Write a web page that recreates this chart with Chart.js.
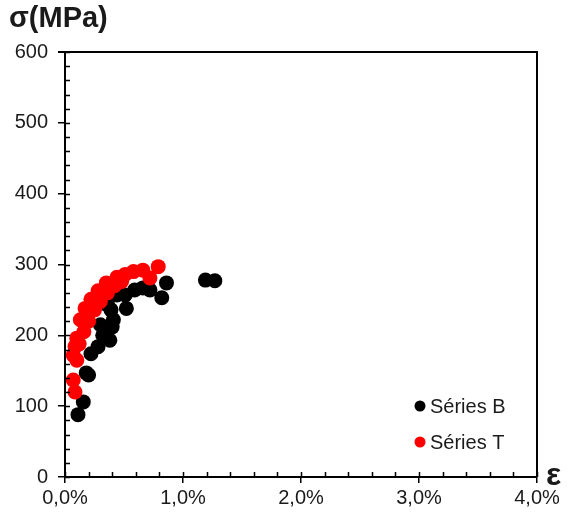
<!DOCTYPE html>
<html>
<head>
<meta charset="utf-8">
<script src="https://cdn.jsdelivr.net/npm/chart.js@4"></script>
<style>
  body { margin: 0; background: #fff; }
  #wrap { width: 570px; height: 515px; }
</style>
</head>
<body>
<div id="wrap"><canvas id="chart1" width="570" height="515"></canvas></div>
<script>
// strain in %, stress in MPa
const seriesBStrain = [0.11, 0.155, 0.18, 0.20, 0.22, 0.28, 0.32, 0.38, 0.40, 0.41, 0.39, 0.36, 0.30, 0.44, 0.51, 0.52, 0.59, 0.66, 0.72, 0.82, 0.86, 1.19, 1.27];
const seriesBStress = [88, 106, 147, 144, 174, 184, 200, 193, 212, 222, 236, 243, 215, 257, 257, 238, 264, 267, 264, 253, 274, 278, 277];

const seriesTStrain = [0.085, 0.07, 0.07, 0.085, 0.10, 0.10, 0.13, 0.17, 0.22, 0.28, 0.35, 0.44, 0.51, 0.58, 0.66, 0.12, 0.16, 0.20, 0.25, 0.30, 0.36, 0.42, 0.48, 0.72, 0.79];
const seriesTStress = [120, 137, 172, 184, 165, 196, 222, 238, 251, 263, 274, 282, 286, 290, 292, 188, 205, 220, 236, 248, 260, 270, 276, 281, 297];

const seriesLabels = ['Séries B', 'Séries T'];
const seriesColors = ['#000000', '#ff0000'];

const xTicks = [0, 1, 2, 3, 4];
const yTicks = [0, 100, 200, 300, 400, 500, 600];

const toPoints = (xs, ys) => xs.map((v, i) => ({x: v, y: ys[i]}));

// minor ticks inside the box, border on top/right, titles and legend
const frameAndLegend = {
    id: 'frameAndLegend',
    afterDraw(chart) {
        const c = chart.ctx;
        const a = chart.chartArea;
        const xs = chart.scales.x;
        const ys = chart.scales.y;
        c.save();
        c.strokeStyle = '#000';
        c.lineWidth = 1.5;
        c.beginPath();
        for (let v = 0; v <= 4.001; v += 0.2) {
            const px = Math.round(xs.getPixelForValue(v)) + 0.5;
            c.moveTo(px, a.bottom);
            c.lineTo(px, a.bottom - 5);
        }
        for (let v = 0; v <= 600; v += 20) {
            const py = Math.round(ys.getPixelForValue(v)) + 0.5;
            c.moveTo(a.left, py);
            c.lineTo(a.left + 5, py);
        }
        c.stroke();

        c.lineWidth = 2;
        c.beginPath();
        c.moveTo(a.left - 7, a.top);
        c.lineTo(a.right, a.top);
        c.lineTo(a.right, a.bottom);
        c.stroke();

        c.fillStyle = '#1a1a1a';
        c.font = 'bold 29px "Liberation Sans", Arial, sans-serif';
        c.textBaseline = 'middle';
        c.textAlign = 'left';
        c.fillText('σ(MPa)', 9, 19);
        c.font = 'bold 32px "Liberation Sans", Arial, sans-serif';
        c.fillText('ε', 546, 476);

        c.font = '20px "Liberation Sans", Arial, sans-serif';
        const legendY = [406, 442];
        chart.data.datasets.forEach((ds, i) => {
            c.fillStyle = ds.backgroundColor;
            c.beginPath();
            c.arc(420, legendY[i], 5.5, 0, Math.PI * 2);
            c.fill();
            c.fillStyle = '#1a1a1a';
            c.fillText(ds.label, 430, legendY[i] + 1);
        });
        c.restore();
    }
};

const ctx = document.getElementById('chart1');
new Chart(ctx, {
    type: 'scatter',
    data: {
        datasets: [{
            label: seriesLabels[0],
            data: toPoints(seriesBStrain, seriesBStress),
            backgroundColor: seriesColors[0],
            borderColor: seriesColors[0],
            pointRadius: 7.5,
            pointBorderWidth: 0,
            order: 2
        }, {
            label: seriesLabels[1],
            data: toPoints(seriesTStrain, seriesTStress),
            backgroundColor: seriesColors[1],
            borderColor: seriesColors[1],
            pointRadius: 7.5,
            pointBorderWidth: 0,
            order: 1
        }]
    },
    options: {
        responsive: false,
        animation: false,
        events: [],
        layout: { padding: { top: 52, right: 33, left: 0, bottom: 0 } },
        plugins: {
            legend: { display: false },
            tooltip: { enabled: false }
        },
        scales: {
            x: {
                type: 'linear',
                min: 0,
                max: 4,
                afterFit: (s) => { s.height = 38; },
                afterBuildTicks: (s) => { s.ticks = xTicks.map(v => ({value: v})); },
                ticks: {
                    color: '#1a1a1a',
                    font: { size: 20, family: '"Liberation Sans", Arial, sans-serif' },
                    padding: 3,
                    maxRotation: 0,
                    callback: (v) => v.toFixed(1).replace('.', ',') + '%'
                },
                grid: { drawOnChartArea: false, tickLength: 6, color: '#000', lineWidth: 1.5 },
                border: { color: '#000', width: 2 }
            },
            y: {
                min: 0,
                max: 600,
                afterFit: (s) => { s.width = 65; },
                afterBuildTicks: (s) => { s.ticks = yTicks.map(v => ({value: v})); },
                ticks: {
                    color: '#1a1a1a',
                    font: { size: 20, family: '"Liberation Sans", Arial, sans-serif' },
                    padding: 10
                },
                grid: { drawOnChartArea: false, tickLength: 7, color: '#000', lineWidth: 1.5 },
                border: { color: '#000', width: 2 }
            }
        }
    },
    plugins: [frameAndLegend]
});
</script>
</body>
</html>
